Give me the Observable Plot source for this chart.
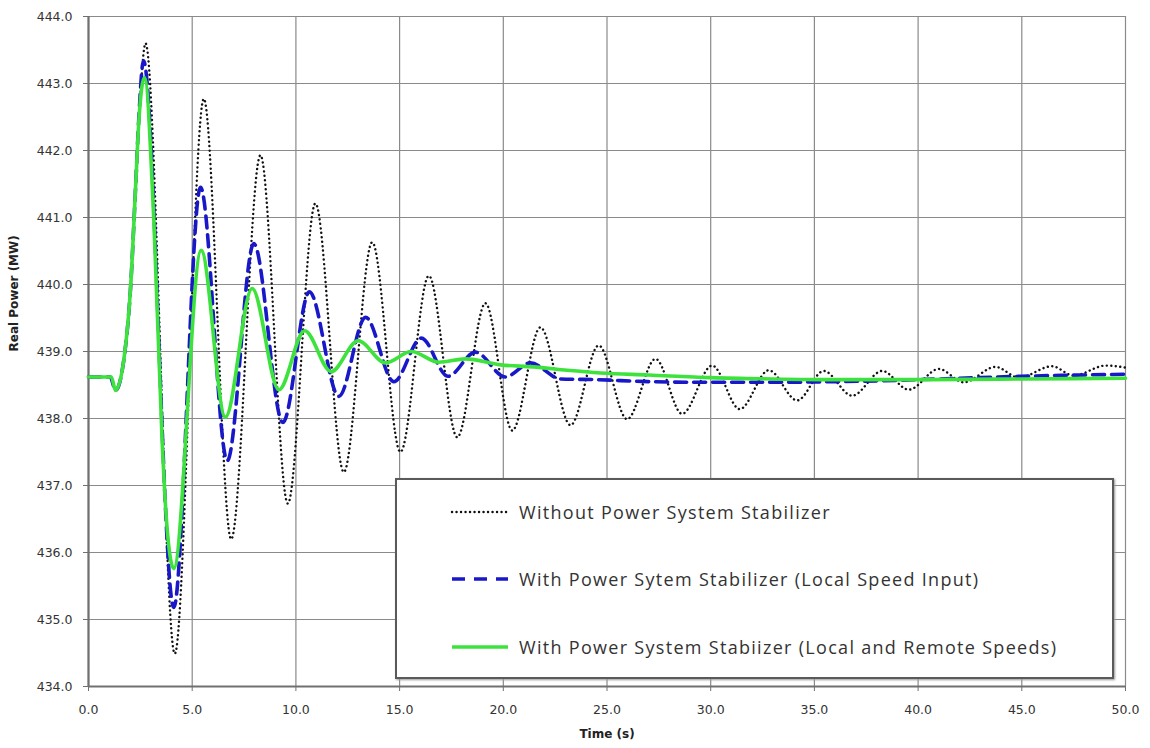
<!DOCTYPE html>
<html><head><meta charset="utf-8">
<script src="https://cdn.jsdelivr.net/npm/d3@7"></script>
<script src="https://cdn.jsdelivr.net/npm/@observablehq/plot@0.6"></script>
<style>
body{margin:0;background:#fff;}
#wrap{position:relative;width:1150px;height:748px;}
#legend{position:absolute;left:395px;top:478px;width:719px;height:201px;border:2px solid #5a5a5a;box-shadow:1px 1px 2px #999;background:#fff;box-sizing:border-box;font-family:"Open Sans",sans-serif;font-size:18px;letter-spacing:1.3px;color:#333;}
.row{position:absolute;left:53px;display:flex;align-items:center;height:24px;}
.row svg{margin-right:9px;}
</style>
</head><body>
<div id="wrap"><div id="chart"></div><div id="legend"></div></div>
<script>
// Without Power System Stabilizer
const tBlack = [0, 1.05, 1.3, 1.7, 2.03, 2.27, 2.45, 2.75, 4.16, 5.56, 6.88, 8.29, 9.61, 10.94, 12.31, 13.68, 15.04, 16.41, 17.78, 19.14, 20.43, 21.79, 23.24, 24.6, 25.97, 27.34, 28.62, 30.07, 31.4, 32.8, 34.17, 35.45, 36.82, 38.27, 39.55, 41.0, 42.2, 43.73, 44.86, 46.46, 47.5, 49.04, 50];
const pBlack = [438.62, 438.62, 438.42, 438.87, 439.96, 441.45, 442.55, 443.6, 434.49, 442.77, 436.2, 441.93, 436.73, 441.21, 437.2, 440.63, 437.5, 440.13, 437.72, 439.72, 437.82, 439.36, 437.9, 439.09, 437.99, 438.89, 438.07, 438.79, 438.14, 438.72, 438.27, 438.71, 438.34, 438.71, 438.43, 438.74, 438.54, 438.77, 438.61, 438.78, 438.64, 438.79, 438.76];
// With PSS (local speed input)
const tBlue = [0, 1.05, 1.3, 1.7, 2.03, 2.27, 2.43, 2.65, 4.11, 5.4, 6.69, 7.97, 9.37, 10.65, 12.07, 13.36, 14.72, 16.05, 17.33, 18.66, 20.1, 21.31, 22.76, 24.5, 27, 30, 33, 36, 39, 42, 45, 48, 50];
const pBlue = [438.62, 438.62, 438.42, 438.87, 439.96, 441.45, 442.5, 443.34, 435.18, 441.45, 437.37, 440.61, 437.94, 439.89, 438.33, 439.51, 438.55, 439.2, 438.63, 438.99, 438.62, 438.83, 438.59, 438.58, 438.55, 438.54, 438.54, 438.55, 438.57, 438.6, 438.63, 438.65, 438.66];
// With PSS (local and remote speeds)
const tGreen = [0, 1.1, 1.3, 1.7, 2.03, 2.27, 2.43, 2.7, 3.15, 3.55, 3.76, 4.11, 5.43, 6.6, 7.89, 9.18, 10.42, 11.7, 13.0, 14.32, 15.57, 16.89, 18.18, 19.87, 21.46, 23.08, 24.69, 27, 30, 33, 36, 40, 45, 50];
const pGreen = [438.62, 438.62, 438.42, 438.87, 439.96, 441.45, 442.45, 443.09, 440.96, 437.67, 436.48, 435.76, 440.51, 438.02, 439.94, 438.43, 439.31, 438.7, 439.16, 438.83, 439.0, 438.84, 438.89, 438.8, 438.77, 438.72, 438.68, 438.65, 438.61, 438.59, 438.58, 438.58, 438.59, 438.6];

const xTicks = d3.range(0, 50.001, 5);
const yTicks = d3.range(434, 444.001, 1);
const seriesNames = ["Without Power System Stabilizer", "With Power Sytem Stabilizer (Local Speed Input)", "With Power System Stabiizer (Local and Remote Speeds)"];
const xTitle = "Time (s)";
const yTitle = "Real Power (MW)";

const styles = [
  {stroke: "#111111", strokeWidth: 2.4, strokeDasharray: "0.1,4.4", strokeLinecap: "round"},
  {stroke: "#1818c8", strokeWidth: 3.6, strokeDasharray: "12,7"},
  {stroke: "#3de23d", strokeWidth: 3.6}
];
const mk = (t, p) => t.map((x, i) => ({t: x, p: p[i]}));
const sets = [mk(tBlack, pBlack), mk(tBlue, pBlue), mk(tGreen, pGreen)];

const chart = Plot.plot({
  width: 1150, height: 748,
  marginLeft: 88, marginRight: 25, marginTop: 16, marginBottom: 62,
  style: {fontFamily: "DejaVu Sans", fontSize: "12.5px", color: "#333", background: "#fff"},
  x: {domain: [0, 50]},
  y: {domain: [434, 444]},
  marks: [
    Plot.gridX(xTicks, {stroke: "#8a8a8a", strokeOpacity: 1, strokeWidth: 1.2}),
    Plot.gridY(yTicks, {stroke: "#8a8a8a", strokeOpacity: 1, strokeWidth: 1.2}),
    Plot.ruleX([0], {stroke: "#707070", strokeWidth: 2.2}),
    Plot.ruleY([434], {stroke: "#707070", strokeWidth: 2.2}),
    Plot.axisX(xTicks, {tickFormat: d3.format(".1f"), tickSize: 5, tickPadding: 14, stroke: "#707070", label: null}),
    Plot.axisY(yTicks, {tickFormat: d3.format(".1f"), tickSize: 5, tickPadding: 11, stroke: "#707070", label: null}),
    ...sets.map((d, i) => Plot.line(d, {x: "t", y: "p", curve: "monotone-x", ...styles[i]})),
    Plot.text([xTitle], {frameAnchor: "bottom", dy: 51, fontWeight: "bold", fontSize: 12, fill: "#222"}),
    Plot.text([yTitle], {frameAnchor: "left", dx: -74, rotate: -90, fontWeight: "bold", fontSize: 12, fill: "#222"})
  ]
});
document.getElementById("chart").appendChild(chart);

const legend = document.getElementById("legend");
const rowTops = [20, 87, 155];
seriesNames.forEach((name, i) => {
  const row = document.createElement("div");
  row.className = "row";
  row.style.top = rowTops[i] + "px";
  const s = styles[i];
  row.innerHTML = `<svg width="60" height="10"><line x1="2" x2="58" y1="5" y2="5" stroke="${s.stroke}" stroke-width="${s.strokeWidth}" ${s.strokeDasharray ? `stroke-dasharray="${i === 1 ? '13,9' : s.strokeDasharray}"` : ""} stroke-linecap="${s.strokeLinecap || 'butt'}"/></svg><span>${name}</span>`;
  legend.appendChild(row);
});
</script>
</body></html>
